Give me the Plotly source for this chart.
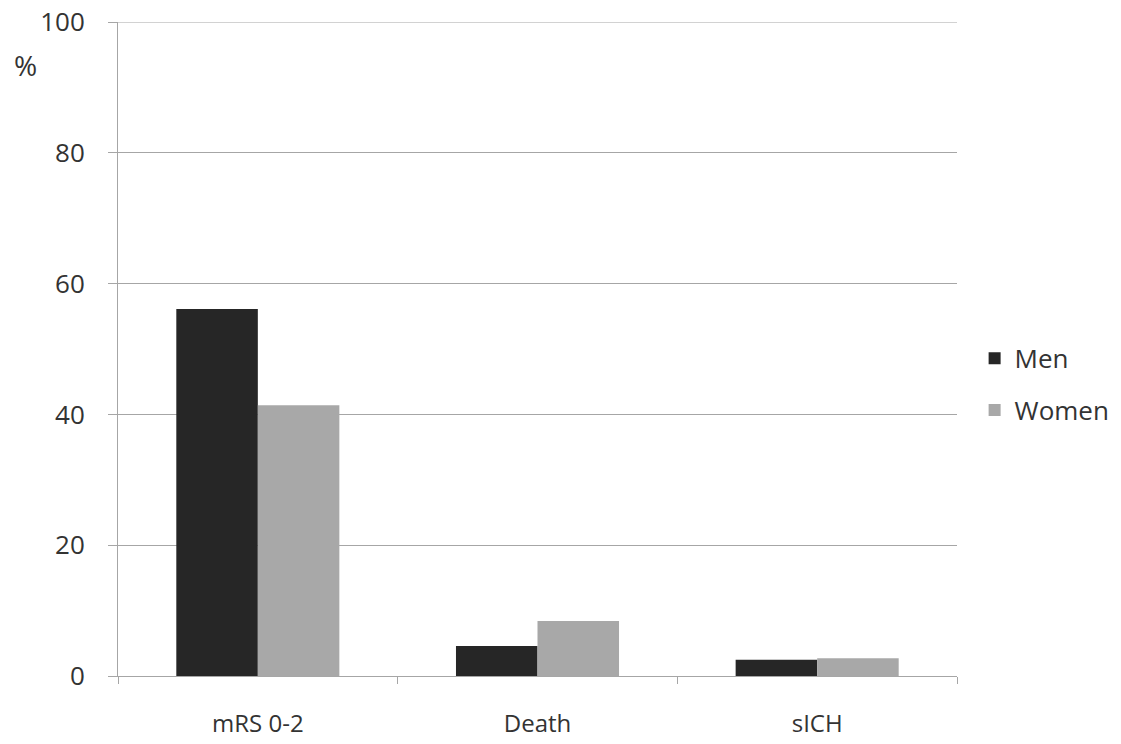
import plotly.graph_objects as go

# Outcomes by sex (%)
categories = ["mRS 0-2", "Death", "sICH"]
men = [56.1, 4.6, 2.5]
women = [41.4, 8.4, 2.7]
y_ticks = [0, 20, 40, 60, 80, 100]

FONT = "Open Sans"
TEXT = "#333333"
GRID = "#a6a6a6"

W, H = 1121, 744
L, R, T, B = 118, 164, 22, 68

fig = go.Figure()
fig.add_trace(go.Bar(name="Men", x=categories, y=men, marker_color="#262626",
                     marker_line_width=0, legendgroup="m"))
fig.add_trace(go.Bar(name="Women", x=categories, y=women, marker_color="#a8a8a8",
                     marker_line_width=0, legendgroup="w"))

fig.update_layout(
    width=W, height=H,
    margin=dict(l=L, r=R, t=T, b=B, pad=0, autoexpand=False),
    paper_bgcolor="white", plot_bgcolor="white",
    barmode="group", bargap=0.417, bargroupgap=0,
    font=dict(family=FONT, size=24, color=TEXT),
    showlegend=True,
    legend=dict(x=1.021, y=0.446, xanchor="left", yanchor="middle",
                font=dict(size=26, color=TEXT), traceorder="grouped",
                tracegroupgap=15, bgcolor="rgba(0,0,0,0)"),
    xaxis=dict(showline=True, linecolor=GRID, linewidth=1, automargin=False,
               ticks="outside", tickson="boundaries", ticklen=7, tickcolor=GRID,
               showgrid=False, ticklabelstandoff=26,
               tickfont=dict(size=24, color=TEXT)),
    yaxis=dict(range=[0, 100], tickvals=y_ticks, showline=True, linecolor=GRID,
               linewidth=1, ticks="outside", ticklen=9, tickcolor=GRID,
               showgrid=True, gridcolor=GRID, gridwidth=1, zeroline=False,
               automargin=False, ticklabelstandoff=18,
               tickfont=dict(size=26, color=TEXT)),
)

# top gridline at 100 sits on the plot edge, so draw it explicitly
fig.add_hline(y=y_ticks[-1], line_color=GRID, line_width=1)

fig.add_annotation(text="%", xref="paper", yref="paper",
                   x=-(L - 25) / (W - L - R), y=1 - (65 - T) / (H - T - B),
                   xanchor="center", yanchor="middle", showarrow=False,
                   font=dict(size=28, color=TEXT))

fig.write_html("out.html")
